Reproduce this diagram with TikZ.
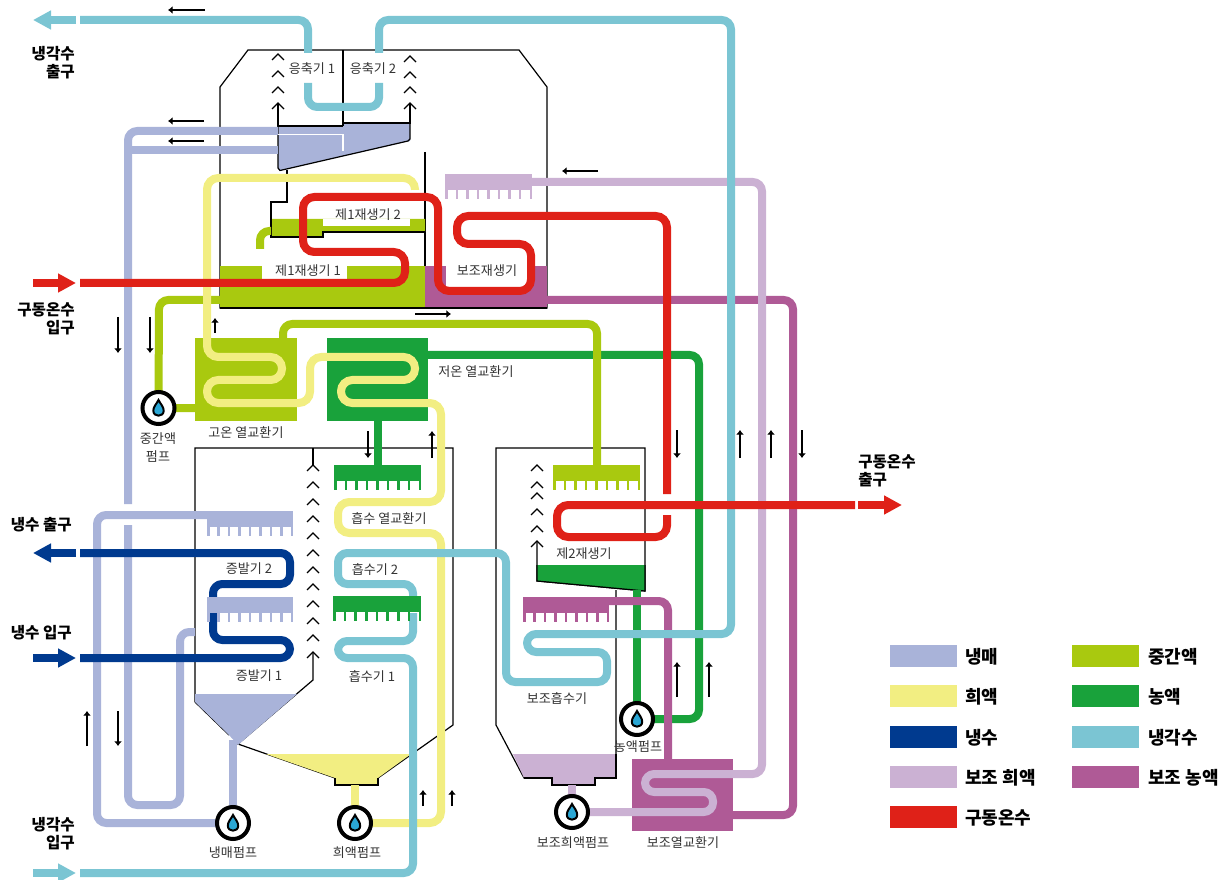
\documentclass[tikz,border=0pt]{standalone}
\usepackage{fontspec}
\setmainfont{Noto Sans CJK KR}
\usetikzlibrary{arrows.meta}
\definecolor{refrig}{HTML}{A9B3D9}
\definecolor{dilute}{HTML}{F2EE82}
\definecolor{chilled}{HTML}{003A8F}
\definecolor{subdilute}{HTML}{CBB1D3}
\definecolor{hotwater}{HTML}{DF2118}
\definecolor{midliq}{HTML}{A9C90F}
\definecolor{conc}{HTML}{19A23B}
\definecolor{coolwater}{HTML}{7BC5D3}
\definecolor{subconc}{HTML}{AF5A96}
\definecolor{dropblue}{HTML}{2AA7D5}
\tikzset{
  pipe/.style={line width=6pt,rounded corners=7pt},
  wall/.style={line width=0.9pt,black},
  flow/.style={line width=1.5pt,-{Latex[length=3.5pt,width=6pt]}},
  bigflow/.style={line width=6pt,-{Triangle[length=13.5pt,width=13.5pt]}},
  lbl/.style={font=\fontsize{9.8}{13.5}\selectfont,text=black!80,inner sep=0pt,yshift=-0.8pt},
  boldlbl/.style={font=\fontsize{11.7}{13.5}\selectfont\bfseries,inner sep=0pt,align=right,yshift=-0.8pt},
  keylbl/.style={font=\fontsize{13.5}{15}\selectfont\bfseries,inner sep=0pt,anchor=west,yshift=-0.8pt},
  pumpbody/.style={circle,draw=black,fill=white,line width=3pt,minimum size=24pt,inner sep=0pt},
}
\newcommand{\chev}[2]{\draw[wall] (#1-6,#2+6) -- (#1,#2) -- (#1+6,#2+6);}
\newcommand{\combhdr}[4]{
  \fill[#4] (#1,#3) rectangle (#2,#3+16);
  \foreach \i in {0,...,8}
    \fill[#4] ({#1+\i*(#2-#1-2.5)/8},#3+15) rectangle ({#1+\i*(#2-#1-2.5)/8+2.5},#3+25);
}
\newcommand{\pumpdrop}[1]{
  \draw[fill=dropblue,line width=1.5pt] ([yshift=6pt]#1) .. controls +(-1.5pt,-3pt) and +(0pt,3pt) .. ([yshift=-2pt,xshift=-3.9pt]#1) .. controls +(0pt,-5pt) and +(0pt,-5pt) .. ([yshift=-2pt,xshift=3.9pt]#1) .. controls +(0pt,3pt) and +(1.5pt,-3pt) .. ([yshift=6pt]#1) -- cycle;
}
\begin{document}
\begin{tikzpicture}[x=0.75pt,y=-0.75pt]
  \useasboundingbox (0,0) rectangle (1231,880);
  \coordinate (pumpmid) at (158.5,408);
  \coordinate (pumpcold) at (233,823);
  \coordinate (pumpdil) at (355,823);
  \coordinate (pumpconc) at (637,719);
  \coordinate (pumpsub) at (572,812);
  % Vessels
  \draw[wall,line join=miter] (248,50) -- (519,50) -- (547,87) -- (547,308) -- (220,308) -- (220,87) -- cycle;
  \draw[wall] (425,152) -- (425,308);
  \draw[wall] (195,702) -- (195,448) -- (453,448) -- (453,725) -- (378,778) -- (378,785) -- (335,785) -- (335,778) -- (238,744) -- (313,680) -- (313,652);
  \draw[wall] (313,448) -- (313,465);
  \draw[wall] (195,702) -- (229,735);
  \draw[wall] (616,590) -- (616,778) -- (595,778) -- (595,785) -- (552,785) -- (552,778) -- (524,778) -- (496,725) -- (496,448) -- (645,448) -- (645,591) -- (537,581) -- (537,541);
  % Pools
  \fill[refrig] (195,694) -- (297,694) -- (238,745) -- (229,735) -- (195,702) -- cycle;
  \fill[dilute] (266,754) -- (411,754) -- (378,778) -- (378,785) -- (335,785) -- (335,778) -- cycle;
  \fill[subdilute] (513,754) -- (616,754) -- (616,778) -- (595,778) -- (595,785) -- (552,785) -- (552,778) -- (524,778) -- cycle;
  \fill[conc] (537,565) -- (645,565) -- (645,591) -- (537,581) -- cycle;
  \fill[midliq] (220,266) rectangle (425,308);
  \fill[subconc] (425,266) rectangle (547,308);
  \fill[white] (262,266) rectangle (347,279);
  \fill[white] (446,266) rectangle (527,287);
  \fill[midliq] (271,219) -- (425,219) -- (425,232) -- (323,232) -- (323,237) -- (271,237) -- cycle;
  \fill[white] (323,219) rectangle (410,226);
  \draw[wall] (287,170) -- (287,202) -- (271,202) -- (271,237) -- (323,237) -- (323,232) -- (425,232);
  \draw[wall] (220,308) -- (547,308);
  \draw[wall] (645,565) -- (645,591) -- (537,581) -- (537,565);
  \draw[wall] (378,778) -- (378,785) -- (335,785) -- (335,778);
  \draw[wall] (616,754) -- (616,778) -- (595,778) -- (595,785) -- (552,785) -- (552,778) -- (524,778);
  % Condenser tray
  \fill[refrig] (278,126) -- (343,126) -- (343,123) -- (410,123) -- (410,141) -- (280,170.5) -- (278,168) -- cycle;
  \draw[wall,line width=1.4pt] (343,50) -- (343,126);
  \draw[wall] (278,103) -- (278,126) -- (343,126);
  \draw[wall] (343,123) -- (410,123) -- (410,103);
  \draw[wall] (278,126) -- (278,168) -- (280,170.5) -- (408,141) -- (410,139) -- (410,123);
  \foreach \y in {54,71,87,103} {\chev{278}{\y}}
  \foreach \y in {56,72,87,103} {\chev{410}{\y}}
  \foreach \y in {465,482,...,652} {\chev{313}{\y}}
  \foreach \y in {465,482,493,509,526,541} {\chev{537}{\y}}
  % Exchangers
  \fill[midliq] (195,338) rectangle (297,421);
  \fill[conc] (327,338) rectangle (428,421);
  \fill[subconc] (632,759) rectangle (733,831);
  % Refrigerant
  \draw[pipe,refrig] (278,131) -- (128,131) -- (128,504);
  \draw[pipe,refrig] (128,525) -- (128,805) -- (180,805) -- (180,632) -- (195,632);
  \draw[pipe,refrig] (278,150) -- (128,150);
  \draw[pipe,refrig] (pumpcold) -- (97,823) -- (97,515) -- (207,515);
  \draw[pipe,refrig] (233,740) -- (pumpcold);
  \draw[white,line width=0.8pt] (278,134.5) -- (343,134.5) -- (343,151);
  % Concentrated liquid
  \draw[pipe,conc] (428,355) -- (699,355) -- (699,719) -- (pumpconc);
  \draw[pipe,conc] (378,421) -- (378,465);
  \draw[pipe,conc] (637,590) -- (pumpconc);
  % Intermediate liquid
  \draw[pipe,midliq] (220,300) -- (159,300) -- (pumpmid) -- (195,408);
  \draw[pipe,midliq] (283,338) -- (283,324) -- (597,324) -- (597,465);
  \draw[pipe,midliq] (271,231) -- (260,231) -- (260,249);
  % Auxiliary liquids
  \draw[pipe,subconc] (733,815) -- (793,815) -- (793,300) -- (547,300);
  \draw[pipe,subconc] (668,759) -- (668,601) -- (609,601);
  \draw[pipe,subdilute] (532,182) -- (762,182) -- (762,774) -- (645,774) -- (645,792) -- (713,792) -- (713,812) -- (pumpsub);
  \draw[pipe,subdilute] (572,785) -- (pumpsub);
  % Dilute liquid
  \draw[pipe,rounded corners=8.5pt,dilute] (415,190) -- (415,178) -- (207,178) -- (207,357) -- (282,357) -- (282,380) -- (207,380) -- (207,403) -- (310,403) -- (310,357) -- (415,357) -- (415,380) -- (341,380) -- (341,403) -- (441,403) -- (441,502) -- (338,502) -- (338,533) -- (441,533) -- (441,823) -- (pumpdil);
  \draw[pipe,dilute] (355,785) -- (pumpdil);
  % Cooling water
  \draw[bigflow,coolwater] (76,20) -- (33,20);
  \draw[pipe,coolwater] (80,20) -- (308,20) -- (308,53);
  \draw[pipe,coolwater] (308,83) -- (308,107) -- (379,107) -- (379,83);
  \draw[pipe,coolwater] (379,53) -- (379,20) -- (731,20) -- (731,634) -- (527,634) -- (527,652) -- (607,652) -- (607,682) -- (506,682) -- (506,553) -- (338,553) -- (338,584) -- (413,584) -- (413,597);
  \draw[pipe,coolwater] (413,613) -- (413,641) -- (338,641) -- (338,658) -- (413,658) -- (413,873) -- (80,873);
  \draw[bigflow,coolwater] (33,873) -- (76,873);
  % Chilled water
  \draw[bigflow,chilled] (76,553) -- (33,553);
  \draw[pipe,chilled] (80,553) -- (290,553) -- (290,584) -- (213,584) -- (213,640) -- (290,640) -- (290,658) -- (80,658);
  \draw[bigflow,chilled] (33,658) -- (76,658);
  % Driving hot water
  \draw[bigflow,hotwater] (33,283) -- (76,283);
  \draw[pipe,rounded corners=8.5pt,hotwater] (80,283) -- (405,283) -- (405,252) -- (303,252) -- (303,197) -- (438,197) -- (438,291) -- (531,291) -- (531,244) -- (457,244) -- (457,216) -- (667,216) -- (667,494);
  \draw[pipe,rounded corners=8.5pt,hotwater] (667,515) -- (667,537) -- (557,537) -- (557,505) -- (855,505);
  \draw[bigflow,hotwater] (858,505) -- (902,505);
  % Headers
  \combhdr{207}{293}{511}{refrig}
  \combhdr{207}{293}{597}{refrig}
  \combhdr{334}{421}{465}{conc}
  \combhdr{333}{421}{596}{conc}
  \combhdr{553}{640}{465}{midliq}
  \combhdr{523}{609}{597}{subconc}
  \combhdr{445}{532}{174}{subdilute}
  % Pumps
  \foreach \p in {pumpmid,pumpcold,pumpdil,pumpconc,pumpsub} {
    \node[pumpbody] (\p body) at (\p) {};
    \pumpdrop{\p}
  }
  % Flow directions
  \draw[flow] (205,10) -- (168,10);
  \draw[flow] (204,121) -- (168,121);
  \draw[flow] (204,141) -- (168,141);
  \draw[flow] (598,171) -- (562,171);
  \draw[flow] (415,314) -- (451,314);
  \draw[flow] (118,317) -- (118,353);
  \draw[flow] (150,317) -- (150,353);
  \draw[flow] (215,333) -- (215,318);
  \draw[flow] (368,431) -- (368,458);
  \draw[flow] (432,458) -- (432,431);
  \draw[flow] (677,430) -- (677,458);
  \draw[flow] (740,458) -- (740,430);
  \draw[flow] (771,458) -- (771,430);
  \draw[flow] (802,430) -- (802,458);
  \draw[flow] (677,697) -- (677,662);
  \draw[flow] (709,697) -- (709,662);
  \draw[flow] (87,746) -- (87,711);
  \draw[flow] (118,711) -- (118,746);
  \draw[flow] (423,806) -- (423,790);
  \draw[flow] (452,806) -- (452,790);
  % Labels
  \node[lbl] (cond1) at (312,68) {응축기 1};
  \node[lbl] (cond2) at (373,68) {응축기 2};
  \node[lbl] (gen12) at (368,214) {제1재생기 2};
  \node[lbl] (gen11) at (308,270) {제1재생기 1};
  \node[lbl] (subgen) at (487,270) {보조재생기};
  \node[lbl] (hotex) at (246,432) {고온 열교환기};
  \node[lbl] (lowex) at (476,371) {저온 열교환기};
  \node[lbl] (absex) at (389,517) {흡수 열교환기};
  \node[lbl] (evap2) at (249,568) {증발기 2};
  \node[lbl] (abs2) at (375,568) {흡수기 2};
  \node[lbl] (evap1) at (259,675) {증발기 1};
  \node[lbl] (abs1) at (372,675) {흡수기 1};
  \node[lbl] (gen2) at (584,553) {제2재생기};
  \node[lbl] (subabs) at (557,697) {보조흡수기};
  \node[lbl,align=center] (pumpmidlbl) at (158,446) {중간액\\펌프};
  \node[lbl] (pumpcoldlbl) at (233,852) {냉매펌프};
  \node[lbl] (pumpdillbl) at (357,852) {희액펌프};
  \node[lbl] (pumpconclbl) at (638,746) {농액펌프};
  \node[lbl] (pumpsublbl) at (573,842) {보조희액펌프};
  \node[lbl] (subex) at (683,842) {보조열교환기};
  \node[boldlbl,anchor=east] (coolout) at (75,62) {냉각수\\출구};
  \node[boldlbl,anchor=east] (hotin) at (75,318) {구동온수\\입구};
  \node[boldlbl,anchor=east] (chillout) at (72,524) {냉수 출구};
  \node[boldlbl,anchor=east] (chillin) at (72,632) {냉수 입구};
  \node[boldlbl,anchor=east] (coolin) at (75,833) {냉각수\\입구};
  \node[boldlbl,anchor=west,align=left] (hotout) at (858,470) {구동온수\\출구};
  % Legend
  \fill[refrig] (890,645) rectangle (957,667);
  \fill[dilute] (890,685) rectangle (957,707);
  \fill[chilled] (890,726) rectangle (957,748);
  \fill[subdilute] (890,766) rectangle (957,788);
  \fill[hotwater] (890,806) rectangle (957,828);
  \fill[midliq] (1072,645) rectangle (1139,667);
  \fill[conc] (1072,685) rectangle (1139,707);
  \fill[coolwater] (1072,726) rectangle (1139,748);
  \fill[subconc] (1072,766) rectangle (1139,788);
  \node[keylbl] (keyrefrig) at (965,656) {냉매};
  \node[keylbl] (keydilute) at (965,696) {희액};
  \node[keylbl] (keychilled) at (965,737) {냉수};
  \node[keylbl] (keysubdil) at (965,777) {보조 희액};
  \node[keylbl] (keyhot) at (965,817) {구동온수};
  \node[keylbl] (keymid) at (1148,656) {중간액};
  \node[keylbl] (keyconc) at (1148,696) {농액};
  \node[keylbl] (keycool) at (1148,737) {냉각수};
  \node[keylbl] (keysubconc) at (1148,777) {보조 농액};
\end{tikzpicture}
\end{document}
